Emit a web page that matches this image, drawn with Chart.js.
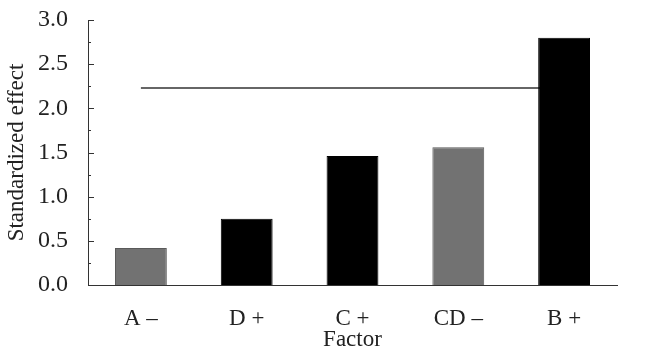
<!DOCTYPE html>
<html>
<head>
<meta charset="utf-8">
<script src="https://cdn.jsdelivr.net/npm/chart.js@4.4.1/dist/chart.umd.min.js"></script>
<style>
  html, body { margin: 0; padding: 0; background: #fff; }
  #wrap { width: 650px; height: 354px; }
</style>
</head>
<body>
<div id="wrap"><canvas id="effectChart"></canvas></div>
<script>
// data
let factors = ["A \u2013", "D +", "C +", "CD \u2013", "B +"];
let effects = [0.42, 0.75, 1.46, 1.56, 2.80];
let isNegative = [true, false, false, true, false];
let refValue = 2.23;
let refLine = [refValue, refValue, refValue, refValue, refValue];
let yTicks = [0, 0.5, 1.0, 1.5, 2.0, 2.5, 3.0];

let barColors = isNegative.map(function (neg) { return neg ? "#727272" : "#000000"; });
let barBorders = isNegative.map(function (neg) { return neg ? "#5a5a5a" : "#000000"; });

let serif = "'Liberation Serif', 'DejaVu Serif', serif";

// small ticks pointing into the plot, like the original
let insideTicks = {
  id: "insideTicks",
  afterDraw(chart) {
    let ctx = chart.ctx;
    let y = chart.scales.y;
    let x0 = chart.chartArea.left;
    ctx.save();
    ctx.strokeStyle = "#333";
    ctx.lineWidth = 1;
    for (let v = 0; v <= 3.0001; v += 0.25) {
      let py = Math.round(y.getPixelForValue(v)) + 0.5;
      let len = (Math.round(v * 4) % 2 === 0) ? 6 : 3;
      ctx.beginPath();
      ctx.moveTo(x0, py);
      ctx.lineTo(x0 + len, py);
      ctx.stroke();
    }
    ctx.restore();
  }
};

new Chart("effectChart", {
  data: {
    labels: factors,
    datasets: [
      {
        type: "bar",
        data: effects,
        backgroundColor: barColors,
        borderColor: barBorders,
        borderWidth: 1,
        categoryPercentage: 1,
        barPercentage: 0.49,
        order: 1
      },
      {
        type: "line",
        data: refLine,
        borderColor: "#333",
        borderWidth: 1.3,
        pointRadius: 0,
        fill: false,
        order: 2
      }
    ]
  },
  options: {
    responsive: true,
    maintainAspectRatio: false,
    animation: false,
    layout: { padding: { top: 20, right: 33, left: 0, bottom: 0 } },
    plugins: {
      legend: { display: false },
      tooltip: { enabled: false }
    },
    scales: {
      x: {
        grid: { display: false, drawTicks: false },
        border: { display: true, color: "#333", width: 1 },
        ticks: { color: "#222", font: { family: serif, size: 23 }, padding: 20 },
        title: { display: true, text: "Factor", color: "#222", font: { family: serif, size: 23 }, padding: { top: -10, bottom: 0 } },
        afterFit(scale) { scale.height = 69; }
      },
      y: {
        min: 0,
        max: 3,
        afterBuildTicks(scale) { scale.ticks = yTicks.map(function (v) { return { value: v }; }); },
        grid: { display: false, drawTicks: false },
        border: { display: true, color: "#333", width: 1 },
        ticks: {
          color: "#222",
          font: { family: serif, size: 24 },
          padding: 20,
          callback: function (v) { return Number(v).toFixed(1); }
        },
        title: { display: true, text: "Standardized effect", color: "#222", font: { family: serif, size: 23 }, padding: { top: 3, bottom: 0 } },
        afterFit(scale) {
          scale.width = 88;
          scale.paddingTop = 0;
          scale.paddingBottom = 0;
        }
      }
    }
  },
  plugins: [insideTicks]
});
</script>
</body>
</html>
